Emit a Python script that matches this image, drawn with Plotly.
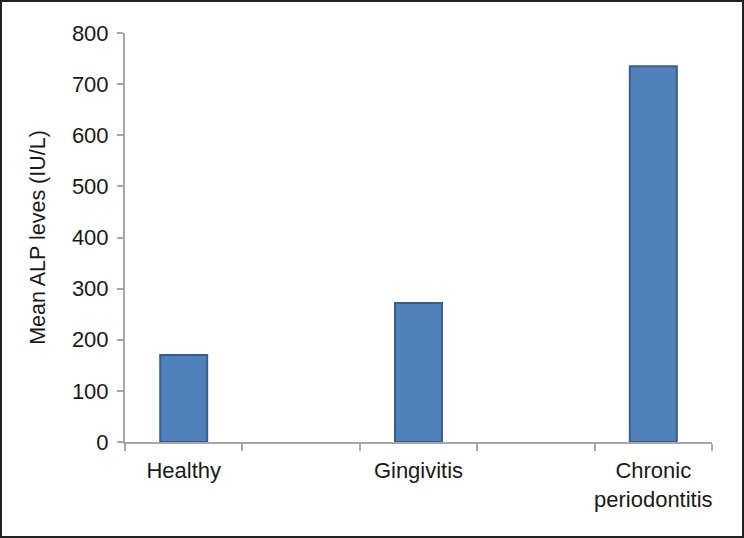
import plotly.graph_objects as go

categories = ["Healthy", " ", "Gingivitis", "  ", "Chronic<br>periodontitis"]
values = [170, None, 272, None, 735]
y_ticks = [0, 100, 200, 300, 400, 500, 600, 700, 800]

W, H = 744, 538
ml, mr, mt, mb = 125, 32, 33, 96
pw, ph = W - ml - mr, H - mt - mb

fig = go.Figure()
fig.add_trace(go.Bar(
    x=categories, y=values, width=0.4,
    marker=dict(color="#4f81bd", line=dict(color="#385d8a", width=2)),
))

axis_col = "#a6a6a6"
font = dict(family="Liberation Sans, Arial, sans-serif", size=22, color="#1a1a1a")

fig.update_layout(
    width=W, height=H,
    margin=dict(l=ml, r=mr, t=mt, b=mb),
    plot_bgcolor="white", paper_bgcolor="white",
    font=font, showlegend=False, bargap=0.6,
    xaxis=dict(
        type="category", categoryorder="array", categoryarray=categories,
        tickson="boundaries", ticks="outside", ticklen=7, tickwidth=2, tickcolor=axis_col,
        showline=True, linecolor=axis_col, linewidth=2, showgrid=False,
        tickfont=font, range=[-0.5, 4.5], tickangle=0, automargin=False,
        ticklabelstandoff=8,
    ),
    yaxis=dict(
        range=[0, 800], tickvals=y_ticks, ticks="outside", ticklen=6, tickwidth=2,
        tickcolor=axis_col, showline=True, linecolor=axis_col, linewidth=2,
        showgrid=False, zeroline=False, tickfont=font, ticklabelstandoff=4,
        automargin=False,
        title=dict(text="Mean ALP leves (IU/L)", font=dict(family=font["family"], size=21.5, color="#1a1a1a"), standoff=20),
    ),
)

fig.add_shape(
    type="rect", xref="paper", yref="paper",
    x0=(1 - ml) / pw, x1=(W - 1 - ml) / pw,
    y0=(H - mb - (H - 1)) / ph, y1=(H - mb - 1) / ph,
    line=dict(color="#222222", width=2), fillcolor="rgba(0,0,0,0)", layer="above",
)

fig.write_html(
    "out.html",
    config={"displayModeBar": False},
    post_script="document.body.style.margin='0';document.body.style.overflow='hidden';",
)
